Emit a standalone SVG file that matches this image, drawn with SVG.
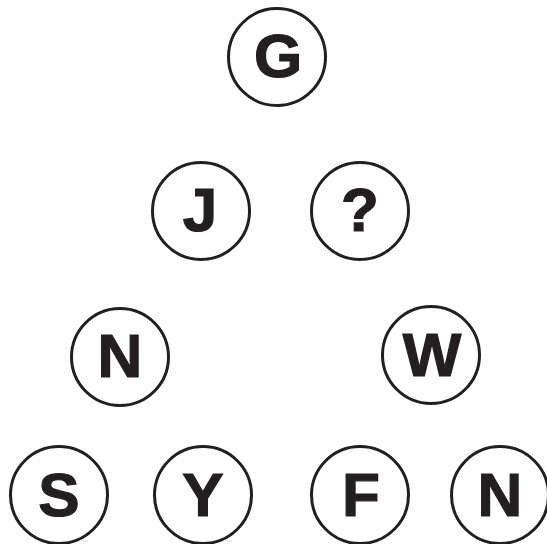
<svg xmlns="http://www.w3.org/2000/svg" width="547" height="544" viewBox="0 0 547 544">
<style>
.c{fill:#fff;stroke:#231f20;stroke-width:3}
.t{font-family:"Liberation Sans",Arial,sans-serif;font-weight:bold;font-size:62px;fill:#231f20;stroke:#231f20;stroke-width:1.2;text-anchor:middle}
</style>
<rect width="547" height="544" fill="#fff"/>
<g id="node-G"><circle class="c" cx="277" cy="57" r="48.5"/><text class="t" x="278" y="77">G</text></g>
<g id="node-J"><circle class="c" cx="201" cy="211" r="48.5"/><text class="t" x="200" y="231">J</text></g>
<g id="node-Q"><circle class="c" cx="360" cy="211" r="48.5"/><text class="t" x="360" y="231">?</text></g>
<g id="node-N1"><circle class="c" cx="120" cy="357" r="48.5"/><text class="t" x="120" y="377">N</text></g>
<g id="node-W"><circle class="c" cx="431" cy="355" r="48.5"/><text class="t" x="432" y="376">W</text></g>
<g id="node-S"><circle class="c" cx="59" cy="495" r="48.5"/><text class="t" x="59" y="516">S</text></g>
<g id="node-Y"><circle class="c" cx="203" cy="495" r="48.5"/><text class="t" x="203" y="516">Y</text></g>
<g id="node-F"><circle class="c" cx="360" cy="495" r="48.5"/><text class="t" x="361" y="516">F</text></g>
<g id="node-N2"><circle class="c" cx="500" cy="495" r="48.5"/><text class="t" x="500" y="516">N</text></g>
<g id="connectors"></g>
</svg>
